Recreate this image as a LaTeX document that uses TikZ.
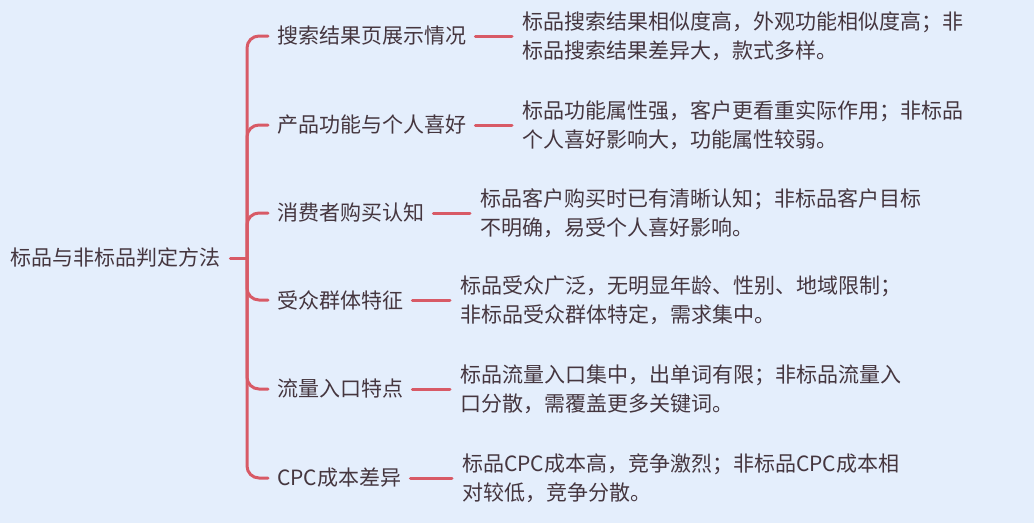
\documentclass[tikz,border=0pt]{standalone}
\usepackage{fontspec}
\setmainfont{Noto Sans CJK SC}
\usepackage{xcolor}
\usepackage{tikz}
\definecolor{bgblue}{HTML}{E4EEFC}
\definecolor{linkred}{HTML}{D85A66}
\definecolor{inkdark}{HTML}{45363F}
\tikzset{
  topic/.style={anchor=west, inner xsep=9pt, inner ysep=0pt, text=inkdark, font=\fontsize{21}{29}\selectfont},
  detail/.style={topic, inner xsep=10pt, align=left},
  link/.style={linkred, line width=3pt, line cap=round},
}

\begin{document}
\begin{tikzpicture}[x=1pt, y=-1pt]
          \fill[bgblue] (0,0) rectangle (1034,523);
          \useasboundingbox (0,0) rectangle (1034,523);
          \node[topic, inner xsep=10pt] (root) at (0,258) {标品与非标品判定方法};
          \coordinate (hub) at (247,258);
          \node[topic] (b1) at (268,36) {搜索结果页展示情况};
          \node[topic] (b2) at (268,125) {产品功能与个人喜好};
          \node[topic] (b3) at (268,213) {消费者购买认知};
          \node[topic] (b4) at (268,300) {受众群体特征};
          \node[topic] (b5) at (268,389) {流量入口特点};
          \node[topic] (b6) at (268,478) {CPC成本差异};
          \node[detail] (d1) at (512,36) {标品搜索结果相似度高，外观功能相似度高；非\\标品搜索结果差异大，款式多样。};
          \node[detail] (d2) at (512,125) {标品功能属性强，客户更看重实际作用；非标品\\个人喜好影响大，功能属性较弱。};
          \node[detail] (d3) at (470,213) {标品客户购买时已有清晰认知；非标品客户目标\\不明确，易受个人喜好影响。};
          \node[detail] (d4) at (450,300) {标品受众广泛，无明显年龄、性别、地域限制；\\非标品受众群体特定，需求集中。};
          \node[detail] (d5) at (450,389) {标品流量入口集中，出单词有限；非标品流量入\\口分散，需覆盖更多关键词。};
          \node[detail] (d6) at (452,478) {标品CPC成本高，竞争激烈；非标品CPC成本相\\对较低，竞争分散。};
          \draw[link] (root) -- (hub);
          \foreach \i in {1,...,6}
            \draw[link, rounded corners=12pt] (hub) |- (b\i.west);
          \foreach \i in {1,...,6}
            \draw[link] (b\i) -- (d\i);
        \end{tikzpicture}
\end{document}
